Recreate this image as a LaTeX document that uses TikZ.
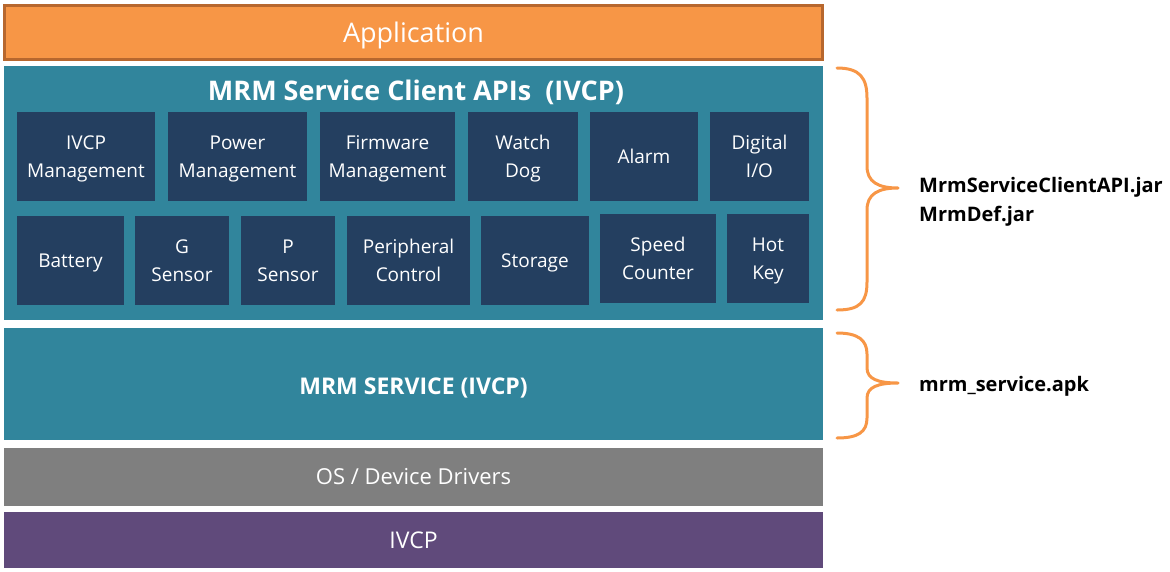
\documentclass[tikz,border=0pt]{standalone}
\usepackage{fontspec}
\setmainfont{Open Sans}
\usepackage{tikz}
\usetikzlibrary{positioning}
\definecolor{apporange}{HTML}{F79646}
\definecolor{appedge}{HTML}{B7672E}
\definecolor{apiteal}{HTML}{31859C}
\definecolor{modblue}{HTML}{243F60}
\definecolor{osgray}{HTML}{7F7F7F}
\definecolor{ivcppurple}{HTML}{604A7B}

\begin{document}
\begin{tikzpicture}[x=1pt,y=-1pt,
    capcenter/.style={text height=#1, text depth=0pt},
    layer/.style={inner sep=0pt, minimum width=819pt, text=white},
    module/.style={fill=modblue, inner sep=0pt, minimum height=89pt, text=white,
      align=center, font=\fontsize{19}{28.5}\selectfont, capcenter=13.6pt},
    twoline/.style={capcenter=42.1pt},
    brace/.style={draw=apporange, line width=3pt, line cap=round, line join=round},
    jarlabel/.style={anchor=west, align=left, inner sep=0pt,
      font=\fontsize{20}{29}\selectfont\bfseries}]
  \useasboundingbox (0,0) rectangle (1170,571);
  % layers
  \node[layer, fill=apporange, draw=appedge, line width=3pt, minimum width=818pt,
    minimum height=54pt, font=\fontsize{27}{30}\selectfont, capcenter=19.3pt]
    (app) at (413.5,32.5) {Application};
  \node[layer, fill=apiteal, minimum height=254pt] (clientapi) at (413.5,193) {};
  \node[text=white, font=\fontsize{27}{30}\selectfont\bfseries, capcenter=19.3pt]
    (apititle) at (416,91) {MRM Service Client APIs\ \ (IVCP)};
  \node[layer, fill=apiteal, minimum height=112pt, capcenter=20.4pt,
    font=\fontsize{23}{26}\selectfont\bfseries] (service) at (413.5,384) {MRM SERVICE (IVCP)};
  \node[layer, fill=osgray, minimum height=58pt, capcenter=15.7pt,
    font=\fontsize{22}{26}\selectfont] (os) at (413.5,477) {OS / Device Drivers};
  \node[layer, fill=ivcppurple, minimum height=56pt, capcenter=16.4pt,
    font=\fontsize{23}{26}\selectfont] (ivcp) at (413.5,540) {IVCP};
  % first row of modules
  \node[module, twoline, minimum width=138pt] (ivcpmgmt) at (86,156.5) {IVCP\\Management};
  \node[module, twoline, minimum width=139pt] (powermgmt) at (237.5,156.5) {Power\\Management};
  \node[module, twoline, minimum width=135pt] (fwmgmt) at (387.5,156.5) {Firmware\\Management};
  \node[module, twoline, minimum width=110pt] (watchdog) at (523,156.5) {Watch\\Dog};
  \node[module, minimum width=108pt] (alarm) at (644,156.5) {Alarm};
  \node[module, twoline, minimum width=99pt] (digio) at (759.5,156.5) {Digital\\I/O};
  % second row of modules
  \node[module, minimum width=107pt] (battery) at (70.5,260.5) {Battery};
  \node[module, twoline, minimum width=94pt] (gsensor) at (182,260.5) {G\\Sensor};
  \node[module, twoline, minimum width=94pt] (psensor) at (288,260.5) {P\\Sensor};
  \node[module, twoline, minimum width=123pt] (periph) at (408.5,260.5) {Peripheral\\Control};
  \node[module, minimum width=108pt] (storage) at (535,260.5) {Storage};
  \node[module, twoline, minimum width=116pt] (speed) at (658,258.5) {Speed\\Counter};
  \node[module, twoline, minimum width=82pt] (hotkey) at (768,258.5) {Hot\\Key};
  % braces
  \draw[brace] (837,68) .. controls (860,68) and (867,78) .. (867,98) -- (867,166)
    .. controls (867,182) and (878,188) .. (898,188)
    .. controls (878,188) and (867,194) .. (867,210) -- (867,282)
    .. controls (867,302) and (860,310) .. (837,310);
  \draw[brace] (837,333) .. controls (858,333) and (867,340) .. (867,354) -- (867,368)
    .. controls (867,379) and (878,383) .. (898,383)
    .. controls (878,383) and (867,387) .. (867,398) -- (867,418)
    .. controls (867,432) and (858,438) .. (837,438);
  \node[jarlabel] (jars) at (919,202) {MrmServiceClientAPI.jar\\MrmDef.jar};
  \node[jarlabel] (apk) at (919,386) {mrm\_service.apk};
\end{tikzpicture}
\end{document}
